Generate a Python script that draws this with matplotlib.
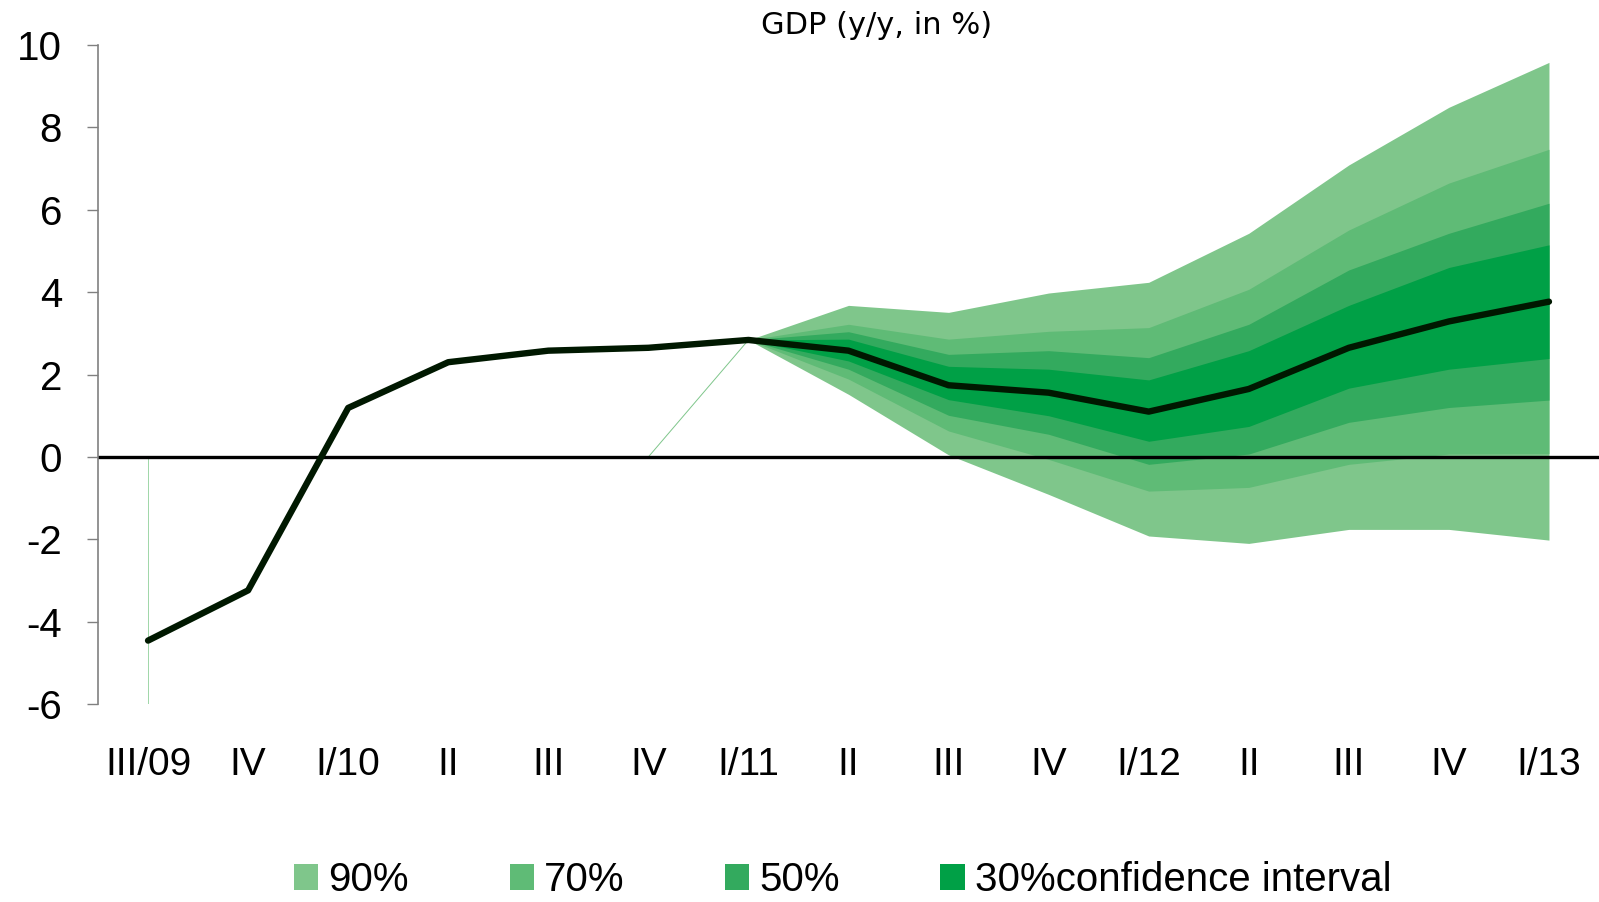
import matplotlib
matplotlib.use("Agg")
import matplotlib.pyplot as plt
from matplotlib.patches import Patch
import numpy as np

# =============================================================================
# Data
# =============================================================================
quarters = ['III/09', 'IV', 'I/10', 'II', 'III', 'IV', 'I/11', 'II', 'III',
            'IV', 'I/12', 'II', 'III', 'IV', 'I/13']
gdp = [-4.46, -3.24, 1.19, 2.30, 2.58, 2.65, 2.84, 2.58, 1.74, 1.56, 1.10,
       1.65, 2.65, 3.29, 3.77]

# fan chart starts at I/11
fan_start = 6
upper90 = [2.84, 3.68, 3.51, 3.98, 4.24, 5.43, 7.09, 8.49, 9.58]
upper70 = [2.84, 3.22, 2.86, 3.05, 3.14, 4.07, 5.51, 6.65, 7.47]
upper50 = [2.84, 3.04, 2.49, 2.58, 2.41, 3.22, 4.54, 5.43, 6.16]
upper30 = [2.84, 2.86, 2.20, 2.13, 1.87, 2.58, 3.68, 4.60, 5.15]
lower30 = [2.84, 2.33, 1.39, 1.00, 0.38, 0.74, 1.67, 2.13, 2.39]
lower50 = [2.84, 2.13, 1.01, 0.55, -0.18, 0.07, 0.84, 1.20, 1.38]
lower70 = [2.84, 1.89, 0.63, -0.06, -0.83, -0.74, -0.18, 0.07, 0.08]
lower90 = [2.84, 1.52, 0.05, -0.91, -1.92, -2.10, -1.76, -1.76, -2.02]

band_labels = ['90%', '70%', '50%', '30%confidence interval']
band_colors = ['#7fc68b', '#5fbb76', '#33aa5e', '#00a046']

# =============================================================================
# Figure
# =============================================================================
plt.rcParams['font.family'] = ['Liberation Sans', 'DejaVu Sans']
plt.rcParams['axes.unicode_minus'] = False

fig = plt.figure(figsize=(15.99, 9.02), dpi=100)
ax = fig.add_axes([0.0613, 0.2195, 1 - 0.0613, 0.950 - 0.2195])

x = np.arange(len(quarters))
xf = x[fan_start:]

bands = [(lower90, upper90), (lower70, upper70), (lower50, upper50), (lower30, upper30)]
for (lo, hi), col in zip(bands, band_colors):
    ax.fill_between(xf, lo, hi, color=col, linewidth=0, zorder=1)

# thin edges left over from the stacked-area construction
ax.plot([x[0], x[0]], [-6, 0], color='#9fd6a8', lw=0.7, zorder=1)
ax.plot([x[fan_start - 1], x[fan_start]], [0, gdp[fan_start]],
        color=band_colors[0], lw=0.7, zorder=1)

ax.axhline(0, color='black', lw=2.4, zorder=2)
ax.plot(x, gdp, color='#001800', lw=4.6, solid_capstyle='round',
        solid_joinstyle='round', zorder=3)

ax.set_xlim(-0.5, len(quarters) - 0.5)
ax.set_ylim(-6, 10)
ax.set_yticks(np.arange(-6, 11, 2))
ax.set_xticks(x)
ax.set_xticklabels(quarters)

for s in ['top', 'right', 'bottom']:
    ax.spines[s].set_visible(False)
ax.spines['left'].set_color('#808080')
ax.spines['left'].set_linewidth(1.2)

ax.tick_params(axis='y', direction='out', length=8, width=1, color='#808080',
               labelsize=29, pad=18)
ax.tick_params(axis='x', length=0, labelsize=28, pad=31)

fig.text(0.548, 1 - 25.5 / 902, 'GDP (y/y, in %)', family='DejaVu Sans',
         fontsize=22, ha='center', va='center')

handles = [Patch(facecolor=c, edgecolor='none') for c in band_colors]
fig.legend(handles, band_labels, loc='center', bbox_to_anchor=(0.527, 0.024),
           ncol=4, frameon=False, fontsize=29, handlelength=0.6,
           handleheight=0.6, handletextpad=0.25, columnspacing=2.5,
           borderpad=0)

fig.savefig('out.png', dpi=100)
